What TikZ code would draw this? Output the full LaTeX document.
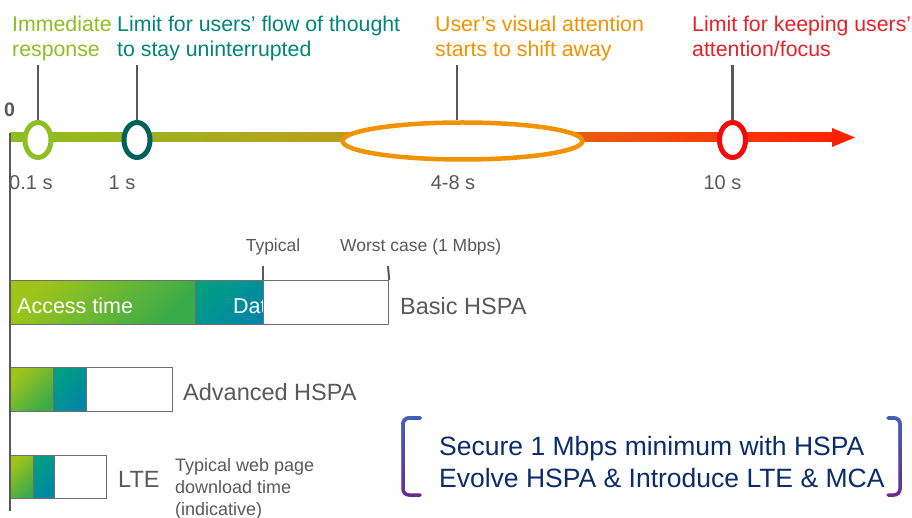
\documentclass[tikz,border=0pt]{standalone}
\usepackage{fontspec}
\setmainfont{Liberation Sans}
\usetikzlibrary{shapes.geometric,fadings}
\definecolor{cgray}{HTML}{595959}
\definecolor{bgray}{HTML}{6E6E6E}
\definecolor{cgreen}{HTML}{8DBE22}
\definecolor{cteal}{HTML}{00857A}
\definecolor{cdteal}{HTML}{00605A}
\definecolor{corange}{HTML}{F39200}
\definecolor{cred}{HTML}{E82028}
\definecolor{ringred}{HTML}{F40A0A}
\definecolor{cnavy}{HTML}{0B2C6B}
\definecolor{bblue}{HTML}{3D64B8}
\definecolor{bpurple}{HTML}{6B2C8F}
\definecolor{barolive}{HTML}{BA9E1E}
\definecolor{barorange}{HTML}{E95B13}
\definecolor{barred}{HTML}{FF2200}
\definecolor{gL}{HTML}{9EC51A}
\definecolor{gR}{HTML}{3AAA4A}
\definecolor{tL}{HTML}{009E82}
\definecolor{tR}{HTML}{0086A8}
\tikzfading[name=fadedown, top color=transparent!0, bottom color=transparent!100]
\begin{document}
\begin{tikzpicture}[x=1pt,y=-1pt,
  toplab/.style={anchor=base west, inner sep=0, font=\fontsize{21.3}{25}\selectfont},
  axlab/.style={anchor=base, inner sep=0, font=\fontsize{20}{24}\selectfont, text=cgray},
  ring/.style={ellipse, draw, fill=white, line width=5pt, inner sep=0, minimum width=26, minimum height=35},
  tick/.style={draw=cgray, line width=2.5pt},
  seg/.style={draw=bgray, line width=1.2pt, inner sep=0, anchor=north west},
  gseg/.style={seg, top color=gL, bottom color=gR, shading angle=45},
  tseg/.style={seg, top color=tL, bottom color=tR, shading angle=45},
  wseg/.style={seg, fill=white},
  barlab/.style={anchor=base west, inner sep=0, font=\fontsize{21.5}{25}\selectfont, text=white},
  techlab/.style={anchor=base west, inner sep=0, font=\fontsize{23.5}{28}\selectfont, text=cgray},
  smalllab/.style={anchor=base west, inner sep=0, font=\fontsize{17.5}{21}\selectfont, text=cgray},
  notelab/.style={anchor=base west, inner sep=0, font=\fontsize{18}{22}\selectfont, text=cgray},
  msglab/.style={anchor=base west, inner sep=0, font=\fontsize{26.5}{32}\selectfont, text=cnavy},
  brk/.style={line width=3.5pt, rounded corners=6pt, line cap=round}
]
\useasboundingbox (0,0) rectangle (912,518);

% top labels
\node[toplab, text=cgreen] (im1) at (12,31.5) {Immediate};
\node[toplab, text=cgreen] (im2) at (12,57) {response};
\node[toplab, text=cteal] (lf1) at (117,31.5) {Limit for users’ flow of thought};
\node[toplab, text=cteal] (lf2) at (117,57) {to stay uninterrupted};
\node[toplab, text=corange] (va1) at (435,31.5) {User’s visual attention};
\node[toplab, text=corange] (va2) at (435,57) {starts to shift away};
\node[toplab, text=cred] (lk1) at (692,31.5) {Limit for keeping users’};
\node[toplab, text=cred] (lk2) at (692,57) {attention/focus};

% timeline bar
\shade[left color=cgreen, right color=barolive] (10,133) rectangle (345,142);
\shade[left color=barolive, right color=barorange] (345,133) rectangle (580,142);
\shade[left color=barorange, right color=barred] (580,133) rectangle (833,142);
\fill[barred] (832,128) -- (855,137.5) -- (832,147) -- cycle;

% rings
\node[ring, draw=cgreen] (c01) at (38,140) {};
\node[ring, draw=cdteal] (c1) at (137,140) {};
\node[ring, draw=corange, line width=4.5pt, minimum width=240, minimum height=37] (c48) at (462.5,141) {};
\node[ring, draw=ringred] (c10) at (732.5,140) {};

% ticks
\coordinate (t01) at (38,65);
\coordinate (t1) at (137,65);
\coordinate (t48) at (457,65);
\coordinate (t10) at (732.5,65);
\draw[tick] (t01) -- (c01.north);
\draw[tick] (t1) -- (c1.north);
\draw[tick] (t48) -- (t48 |- c48.north);
\draw[tick] (t10) -- (c10.north);

% axis labels
\node[font=\bfseries\fontsize{19.5}{22}\selectfont, text=cgray, anchor=base, inner sep=0] (zero) at (9.5,116.5) {0};
\node[axlab, anchor=base west] (l01) at (9,190) {0.1 s};
\node[axlab] (l1) at (122,190) {1 s};
\node[axlab] (l48) at (453,190) {4-8 s};
\node[axlab] (l10) at (722.5,190) {10 s};

% Basic HSPA
\node[gseg, minimum width=185, minimum height=43.5] (bA) at (10,280) {};
\node[tseg, minimum width=68, minimum height=43.5] (bD) at (195,280) {};
\node[barlab] (acc) at (17,313) {Access time};
\node[barlab] (dat) at (233,313) {Dat};
\node[wseg, minimum width=125, minimum height=43.5] (bW) at (263,280) {};
\coordinate (ty) at (263,266);
\coordinate (wc) at (388,266);
\draw[tick, line width=2pt] (ty) -- (bW.north west);
\draw[tick, line width=2pt] (wc) -- (bW.north east);
\node[smalllab, anchor=base] (typ) at (273,252) {Typical};
\node[smalllab] (worst) at (340,252) {Worst case (1 Mbps)};
\node[techlab] (basic) at (400,314.5) {Basic HSPA};

% Advanced HSPA
\node[gseg, minimum width=43, minimum height=44] (aA) at (10,367) {};
\node[tseg, minimum width=33, minimum height=44] (aD) at (53,367) {};
\node[wseg, minimum width=86, minimum height=44] (aW) at (86,367) {};
\node[techlab] (adv) at (183,400) {Advanced HSPA};

% LTE
\node[gseg, minimum width=23, minimum height=43] (lA) at (10,455) {};
\node[tseg, minimum width=21, minimum height=43] (lD) at (33,455) {};
\node[wseg, minimum width=52, minimum height=43] (lW) at (54,455) {};
\node[techlab] (lte) at (118,487.5) {LTE};
\node[notelab] (n1) at (175,471.5) {Typical web page};
\node[notelab] (n2) at (175,493.5) {download time};
\node[notelab] (n3) at (175,515.5) {(indicative)};

% axis line
\coordinate (ax0) at (10,133);
\coordinate (ax1) at (10,511);
\draw[cgray, line width=2.5pt] (ax0) -- (ax1);

% bracket message
\node[msglab] (m1) at (439,455) {Secure 1 Mbps minimum with HSPA};
\node[msglab] (m2) at (439,487) {Evolve HSPA \& Introduce LTE \& MCA};
\draw[brk, bpurple] (420,418) -- (403,418) -- (403,495) -- (420,495);
\draw[brk, bblue, path fading=fadedown] (420,418) -- (403,418) -- (403,495) -- (420,495);
\draw[brk, bpurple] (888,418) -- (900,418) -- (900,495) -- (888,495);
\draw[brk, bblue, path fading=fadedown] (888,418) -- (900,418) -- (900,495) -- (888,495);
\end{tikzpicture}
\end{document}
